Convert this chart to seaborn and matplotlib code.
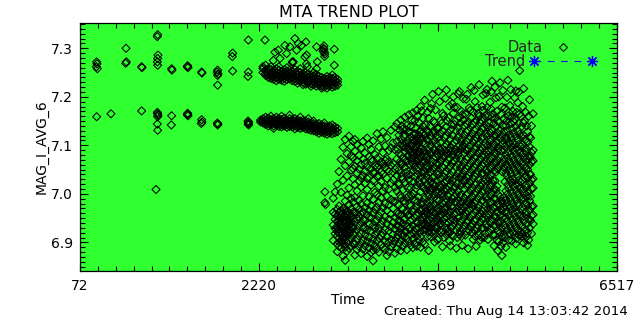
import matplotlib
matplotlib.use("Agg")
import matplotlib.pyplot as plt
import seaborn as sns
import pandas as pd
from matplotlib.lines import Line2D
from matplotlib.legend_handler import HandlerLine2D
from matplotlib.ticker import AutoMinorLocator

# ---------------- data ----------------
title = "MTA TREND PLOT"
x_label = "Time"
y_label = "MAG_I_AVG_6"
created = "Created: Thu Aug 14 13:03:42 2014"
x_ticks = [72, 2220, 4369, 6517]
y_ticks = [6.9, 7.0, 7.1, 7.2, 7.3]
x_range = [72, 6517]
y_range = [6.841, 7.352]

# sparse early points (time, value)
early_t = [272, 276, 280, 268, 272, 444, 624, 628, 620, 812, 816, 812, 984,
           1004, 1000, 1008, 1004, 1000, 1004, 1000, 1004, 1008, 1004, 1000, 1004,
           1172, 1176, 1172, 1168, 1364, 1360, 1368, 1364, 1360, 1368, 1364,
           1532, 1536, 1532, 1528, 1536, 1724, 1720, 1728, 1724, 1724, 1720, 1728, 1724,
           1904, 1900, 1904, 2092, 2092, 2088, 2092, 2096, 2088, 2092, 2096, 2292,
           2412, 2472, 2532, 2592, 2652, 2692, 2732, 2784, 2792, 2632, 2392, 2452,
           2912, 3124, 3124, 2912, 2552, 2772, 2672, 3000, 3000, 3005, 3010, 2995,
           3008, 2990, 2620, 2624, 2790, 2800, 2920, 3012, 3012, 3020]
early_v = [7.272, 7.268, 7.258, 7.262, 7.159, 7.165, 7.300, 7.272, 7.269, 7.262, 7.260, 7.171, 7.009,
           7.328, 7.324, 7.286, 7.279, 7.272, 7.265, 7.168, 7.165, 7.162, 7.159, 7.144, 7.131,
           7.258, 7.255, 7.161, 7.142, 7.264, 7.262, 7.260, 7.165, 7.163, 7.161, 7.166,
           7.251, 7.249, 7.153, 7.145, 7.148, 7.255, 7.251, 7.247, 7.244, 7.224, 7.146, 7.144, 7.142,
           7.290, 7.283, 7.253, 7.317, 7.251, 7.242, 7.146, 7.148, 7.150, 7.144, 7.142, 7.317,
           7.292, 7.279, 7.306, 7.303, 7.320, 7.310, 7.306, 7.313, 7.286, 7.272, 7.275, 7.296,
           7.303, 7.298, 7.265, 7.258, 7.289, 7.282, 7.296, 7.305, 7.298, 7.292, 7.288, 7.300,
           7.283, 7.294, 7.272, 7.270, 7.268, 7.262, 7.272, 7.004, 6.982, 6.978]

# upper band 2270-3170
upper_t = [2268, 2300, 2332, 2364, 2396, 2428, 2460, 2492, 2524, 2556, 2588, 2620, 2652,
           2684, 2716, 2748, 2780, 2812, 2844, 2876, 2908, 2940, 2972, 3004, 3036, 3068,
           3100, 3132, 3164]
upper_v = [[7.258, 7.250, 7.262], [7.255, 7.248, 7.244, 7.265], [7.252, 7.246, 7.240, 7.258],
           [7.256, 7.249, 7.243, 7.238, 7.262], [7.254, 7.247, 7.241, 7.236],
           [7.258, 7.251, 7.245, 7.239, 7.233], [7.255, 7.248, 7.242, 7.236, 7.262],
           [7.252, 7.246, 7.240, 7.234], [7.256, 7.250, 7.244, 7.238, 7.232],
           [7.253, 7.247, 7.241, 7.235, 7.260], [7.255, 7.249, 7.243, 7.237],
           [7.252, 7.245, 7.239, 7.233], [7.256, 7.250, 7.244, 7.238, 7.232],
           [7.253, 7.246, 7.240, 7.234, 7.228], [7.250, 7.244, 7.238, 7.232, 7.258],
           [7.248, 7.242, 7.236, 7.230, 7.225], [7.250, 7.244, 7.238, 7.232, 7.226],
           [7.247, 7.240, 7.234, 7.228], [7.245, 7.239, 7.233, 7.227, 7.222],
           [7.243, 7.237, 7.231, 7.225, 7.250], [7.246, 7.240, 7.234, 7.228, 7.222],
           [7.242, 7.236, 7.230, 7.224], [7.240, 7.234, 7.228, 7.222, 7.218],
           [7.238, 7.232, 7.226, 7.220], [7.242, 7.236, 7.230, 7.224, 7.218],
           [7.240, 7.234, 7.228, 7.222], [7.245, 7.238, 7.232, 7.226, 7.220],
           [7.240, 7.234, 7.228, 7.222], [7.236, 7.230, 7.224]]

# lower band 2240-3170
lower_t = [2240, 2270, 2300, 2332, 2364, 2396, 2428, 2460, 2492, 2524, 2556, 2588, 2620,
           2652, 2684, 2716, 2748, 2780, 2812, 2844, 2876, 2908, 2940, 2972, 3004, 3036,
           3068, 3100, 3132, 3164]
lower_v = [[7.152, 7.148], [7.155, 7.150, 7.146], [7.152, 7.147, 7.143, 7.158],
           [7.156, 7.150, 7.145, 7.140], [7.153, 7.148, 7.143, 7.160],
           [7.155, 7.150, 7.145, 7.140, 7.135], [7.152, 7.147, 7.142, 7.158],
           [7.155, 7.150, 7.144, 7.139], [7.153, 7.148, 7.143, 7.138, 7.160],
           [7.156, 7.150, 7.145, 7.140], [7.152, 7.147, 7.142, 7.137],
           [7.155, 7.149, 7.144, 7.139, 7.162], [7.153, 7.148, 7.143, 7.138],
           [7.155, 7.150, 7.145, 7.140, 7.134], [7.152, 7.147, 7.142, 7.137],
           [7.150, 7.145, 7.140, 7.135, 7.158], [7.152, 7.147, 7.142, 7.137],
           [7.150, 7.144, 7.139, 7.134], [7.148, 7.143, 7.138, 7.133, 7.155],
           [7.146, 7.141, 7.136, 7.131], [7.145, 7.140, 7.135, 7.130, 7.150],
           [7.143, 7.138, 7.133, 7.128], [7.145, 7.140, 7.135, 7.130, 7.125],
           [7.142, 7.137, 7.132, 7.127], [7.140, 7.135, 7.130, 7.125, 7.146],
           [7.138, 7.133, 7.128, 7.123], [7.140, 7.135, 7.130, 7.125],
           [7.142, 7.136, 7.130, 7.124], [7.138, 7.132, 7.126], [7.135, 7.128]]

# broad scatter 3110-5510
late_t = [3112, 3134, 3160, 3181, 3206, 3229, 3255, 3278, 3301, 3327, 3350,
          3372, 3398, 3421, 3447, 3470, 3493, 3518, 3541, 3566, 3590, 3612, 3637, 3660,
          3686, 3708, 3733, 3757, 3780, 3805, 3829, 3852,
          3876, 3900, 3923, 3948, 3971, 3995, 4019, 4042, 4067, 4090, 4114, 4138, 4161, 4186,
          4209, 4233, 4257, 4280, 4304, 4328, 4351, 4376, 4399, 4423, 4447, 4470, 4494,
          4518, 4541, 4566, 4589, 4613, 4637, 4660, 4685, 4708, 4732, 4756, 4779, 4803,
          4827, 4850, 4875, 4898, 4922, 4946, 4969, 4994, 5017, 5041, 5065, 5088, 5113,
          5136, 5160, 5184, 5207, 5231, 5255, 5278, 5302, 5326, 5349, 5374, 5397, 5421,
          5445, 5468, 5492, 5510]
late_v = [
    [6.962, 6.904, 6.991, 6.936],
    [6.958, 6.918, 6.947, 7.004, 6.929],
    [6.955, 6.943, 6.931, 6.913, 6.897, 6.968, 6.881, 7.020, 6.922],
    [6.951, 6.939, 6.921, 6.909, 6.962, 6.892, 6.946, 7.046, 6.975, 6.928, 6.901],
    [6.965, 6.948, 6.929, 6.915, 6.902, 6.938, 6.889, 7.071, 7.003, 6.956, 6.921],
    [6.959, 6.944, 6.925, 6.911, 6.897, 6.970, 6.933, 7.096, 7.028, 6.872, 6.951, 6.906],
    [6.966, 6.952, 6.939, 6.921, 6.905, 6.890, 6.946, 7.112, 7.058, 6.985, 6.863, 6.929, 6.913],
    [6.957, 6.943, 6.928, 6.913, 6.899, 6.965, 7.083, 7.037, 6.997, 6.882, 6.921, 6.950],
    [6.961, 6.935, 6.919, 6.903, 6.949, 7.119, 7.066, 7.012, 6.978, 6.888, 6.927, 6.942],
    [6.954, 6.940, 6.924, 6.908, 7.097, 7.049, 6.991, 6.969, 6.893, 7.079, 6.931],
    [6.947, 6.916, 6.899, 7.108, 7.074, 7.031, 6.983, 6.931, 7.052, 6.962],
    [7.088, 7.057, 7.019, 6.993, 6.962, 6.921, 6.897, 6.874, 7.112, 6.942],
    [7.101, 7.043, 7.006, 6.974, 6.948, 6.927, 6.906, 6.885, 7.068, 6.959],
    [7.079, 7.026, 6.987, 6.952, 6.934, 6.913, 6.892, 7.051, 6.968],
    [7.095, 7.061, 7.014, 6.979, 6.941, 6.918, 6.899, 6.877, 7.033, 6.958],
    [7.108, 7.072, 7.038, 6.996, 6.963, 6.929, 6.905, 6.886, 6.947],
    [7.084, 7.047, 7.021, 6.972, 6.945, 6.915, 6.893, 7.063, 6.931],
    [7.115, 7.056, 7.009, 6.981, 6.957, 6.926, 6.902, 6.871, 7.032],
    [7.077, 7.034, 6.994, 6.966, 6.938, 6.911, 6.889, 7.102, 6.952],
    [7.092, 7.052, 7.018, 6.976, 6.951, 6.923, 6.898, 6.879, 7.071],
    [7.109, 7.069, 7.027, 6.989, 6.961, 6.935, 6.907, 6.884, 6.862, 7.044],
    [7.081, 7.044, 7.003, 6.968, 6.943, 6.916, 6.894, 7.058, 6.929],
    [7.124, 7.073, 7.036, 6.998, 6.973, 6.947, 6.921, 6.903, 6.887, 7.055],
    [7.097, 7.059, 7.016, 6.982, 6.955, 6.929, 6.909, 6.880, 7.037],
    [7.113, 7.066, 7.025, 6.992, 6.962, 6.937, 6.914, 6.896, 7.045],
    [7.128, 7.085, 7.041, 7.006, 6.971, 6.944, 6.919, 6.890, 7.062],
    [7.099, 7.054, 7.013, 6.980, 6.953, 6.926, 6.902, 6.885, 7.069],
    [7.116, 7.072, 7.032, 6.995, 6.966, 6.939, 6.911, 6.873, 7.050],
    [7.089, 7.047, 7.010, 6.977, 6.948, 6.924, 6.900, 6.881, 7.066],
    [7.131, 7.095, 7.058, 7.022, 6.988, 6.958, 6.932, 6.906, 6.891],
    [7.105, 7.063, 7.029, 6.970, 6.941, 6.916, 6.897, 7.045, 6.985],
    [7.138, 7.091, 7.051, 7.014, 6.984, 6.952, 6.927, 6.903, 6.878],
    [7.145, 7.108, 7.072, 7.038, 6.962, 6.935, 6.910, 6.887, 7.006],
    [7.121, 7.084, 7.049, 7.019, 6.977, 6.946, 6.921, 6.898, 6.934],
    [7.152, 7.113, 7.079, 7.043, 6.992, 6.957, 6.929, 6.904, 6.883, 7.061],
    [7.134, 7.097, 7.062, 7.031, 6.969, 6.939, 6.913, 6.892, 7.008],
    [7.158, 7.122, 7.088, 7.055, 7.024, 6.981, 6.950, 6.924, 6.899, 7.104],
    [7.141, 7.104, 7.068, 7.037, 6.964, 6.933, 6.908, 6.885, 6.991],
    [7.163, 7.127, 7.093, 7.061, 7.029, 6.996, 6.957, 6.928, 6.902, 7.078],
    [7.118, 7.101, 7.085, 7.072, 7.058, 7.012, 6.975, 6.944, 6.916, 6.894, 7.139],
    [7.167, 7.112, 7.096, 7.079, 7.063, 7.047, 7.001, 6.963, 6.935, 6.907, 6.889],
    [7.124, 7.107, 7.091, 7.074, 7.056, 7.036, 6.987, 6.951, 6.922, 6.898, 7.151],
    [7.172, 7.116, 7.099, 7.082, 7.066, 7.049, 7.018, 6.974, 6.942, 6.913, 6.892],
    [7.148, 7.121, 7.104, 7.088, 7.071, 7.053, 7.026, 6.993, 6.959, 6.930, 6.905],
    [7.180, 7.131, 7.111, 7.093, 7.077, 7.060, 7.034, 7.004, 6.968, 6.938, 6.911, 6.890],
    [7.156, 7.126, 7.106, 7.085, 7.063, 7.041, 7.015, 6.983, 6.952, 6.925, 6.901, 6.968],
    [7.193, 7.121, 7.104, 7.066, 7.047, 7.029, 6.991, 6.972, 6.953, 6.936, 6.896],
    [7.132, 7.113, 7.074, 7.058, 7.037, 7.020, 6.983, 6.964, 6.945, 6.927],
    [7.156, 7.127, 7.108, 7.090, 7.052, 7.031, 7.013, 6.995, 6.958, 6.939, 6.921, 6.883],
    [7.176, 7.118, 7.099, 7.081, 7.060, 7.024, 7.005, 6.986, 6.967, 6.930, 6.912],
    [7.205, 7.125, 7.106, 7.066, 7.049, 7.033, 7.011, 6.974, 6.955, 6.937],
    [7.147, 7.129, 7.110, 7.092, 7.055, 7.036, 7.016, 6.999, 6.979, 6.943, 6.924, 6.901],
    [7.120, 7.102, 7.084, 7.063, 7.027, 7.007, 6.989, 6.950, 6.932],
    [7.211, 7.135, 7.116, 7.078, 7.060, 7.040, 7.003, 6.985, 6.965, 6.947, 6.908],
    [7.151, 7.124, 7.105, 7.068, 7.050, 7.031, 7.012, 6.975, 6.957, 6.938],
    [7.166, 7.131, 7.093, 7.074, 7.056, 7.019, 7.000, 6.981, 6.944, 6.925, 6.891],
    [7.117, 7.098, 7.080, 7.043, 7.024, 7.006, 6.968, 6.949, 6.931],
    [7.214, 7.138, 7.119, 7.101, 7.063, 7.045, 7.026, 6.989, 6.970, 6.952, 6.916],
    [7.157, 7.126, 7.089, 7.070, 7.052, 7.015, 6.996, 6.978, 6.940, 6.922],
    [7.132, 7.113, 7.095, 7.057, 7.039, 7.020, 6.983, 6.964, 6.946, 6.893],
    [7.186, 7.121, 7.102, 7.065, 7.046, 7.028, 6.991, 6.972, 6.935, 6.916],
    [7.178, 7.143, 7.106, 7.087, 7.068, 7.031, 7.013, 6.994, 6.957, 6.938],
    [7.129, 7.110, 7.073, 7.055, 7.036, 6.999, 6.980, 6.962, 6.925, 6.888],
    [7.206, 7.137, 7.118, 7.081, 7.062, 7.044, 7.006, 6.988, 6.951, 6.932],
    [7.146, 7.127, 7.090, 7.071, 7.053, 7.016, 6.997, 6.978, 6.941, 6.923],
    [7.163, 7.114, 7.096, 7.058, 7.040, 7.021, 6.984, 6.965, 6.947, 6.894],
    [7.141, 7.122, 7.085, 7.066, 7.048, 7.011, 6.992, 6.955, 6.936],
    [7.195, 7.128, 7.109, 7.072, 7.053, 7.035, 6.998, 6.979, 6.960, 6.923],
    [7.149, 7.130, 7.093, 7.074, 7.056, 7.019, 7.000, 6.963, 6.944, 6.887],
    [7.172, 7.117, 7.099, 7.061, 7.043, 7.024, 6.987, 6.968, 6.950],
    [7.144, 7.125, 7.088, 7.069, 7.051, 7.014, 6.995, 6.958, 6.939, 6.920],
    [7.213, 7.131, 7.112, 7.075, 7.056, 7.038, 7.001, 6.982, 6.945, 6.926],
    [7.152, 7.133, 7.096, 7.077, 7.059, 7.022, 7.003, 6.984, 6.947, 6.892],
    [7.166, 7.120, 7.102, 7.064, 7.046, 7.009, 6.990, 6.971, 6.934],
    [7.147, 7.128, 7.091, 7.072, 7.054, 7.017, 6.998, 6.961, 6.942, 6.905],
    [7.180, 7.135, 7.116, 7.079, 7.060, 7.042, 7.005, 6.986, 6.949, 6.930],
    [7.155, 7.136, 7.099, 7.080, 7.062, 7.025, 7.006, 6.969, 6.950, 6.910],
    [7.207, 7.142, 7.123, 7.086, 7.067, 7.049, 7.012, 6.993, 6.956, 6.937],
    [7.160, 7.137, 7.100, 7.081, 7.063, 7.026, 7.007, 6.970, 6.951, 6.906],
    [7.189, 7.126, 7.108, 7.070, 7.052, 7.015, 6.996, 6.977, 6.940],
    [7.232, 7.158, 7.133, 7.096, 7.077, 7.059, 7.022, 7.003, 6.966, 6.947],
    [7.145, 7.121, 7.084, 7.065, 7.047, 7.010, 6.991, 6.954, 6.935, 6.893],
    [7.198, 7.138, 7.119, 7.082, 7.064, 7.045, 7.008, 6.989, 6.952, 6.934],
    [7.150, 7.125, 7.088, 7.069, 7.051, 6.999, 6.980, 6.943, 6.925, 6.883],
    [7.229, 7.132, 7.114, 7.076, 7.058, 6.994, 6.975, 6.957, 6.920],
    [7.179, 7.120, 7.102, 7.064, 7.046, 6.985, 6.966, 6.929, 6.911, 6.873],
    [7.155, 7.128, 7.091, 7.072, 7.054, 6.992, 6.972, 6.935, 6.917],
    [7.141, 7.117, 7.080, 7.061, 7.043, 7.006, 6.987, 6.950, 6.931, 6.890],
    [7.234, 7.160, 7.130, 7.093, 7.074, 7.056, 7.019, 7.000, 6.963, 6.944],
    [7.182, 7.122, 7.104, 7.066, 7.048, 7.029, 6.992, 6.973, 6.936, 6.918],
    [7.158, 7.134, 7.097, 7.078, 7.060, 7.023, 7.004, 6.967, 6.948, 6.903],
    [7.149, 7.126, 7.089, 7.070, 7.052, 7.015, 6.996, 6.959, 6.940],
    [7.212, 7.139, 7.119, 7.082, 7.063, 7.045, 7.008, 6.989, 6.952, 6.933, 6.897],
    [7.188, 7.130, 7.112, 7.074, 7.056, 7.037, 7.000, 6.981, 6.944, 6.926],
    [7.254, 7.165, 7.123, 7.086, 7.067, 7.049, 7.012, 6.993, 6.956, 6.937],
    [7.139, 7.117, 7.080, 7.061, 7.043, 7.006, 6.987, 6.950, 6.931, 6.912],
    [7.217, 7.146, 7.121, 7.084, 7.065, 7.047, 7.010, 6.991, 6.954, 6.899],
    [7.168, 7.112, 7.094, 7.056, 7.038, 7.019, 6.982, 6.963, 6.926],
    [7.128, 7.106, 7.069, 7.050, 7.032, 6.995, 6.976, 6.939, 6.920, 6.894],
    [7.194, 7.118, 7.097, 7.060, 7.041, 7.023, 6.986, 6.967, 6.930],
    [7.140, 7.085, 7.066, 7.029, 7.011, 6.974, 6.955, 6.918],
    [7.165, 7.090, 7.068, 7.031, 7.012, 6.975, 6.957, 6.938],
]

# extra points between the columns 3880-5480
fill_t = [3888, 3912, 3935, 3959, 3983, 4007, 4030, 4054, 4078, 4102, 4126, 4150, 4174, 4197,
          4221, 4245, 4269, 4292, 4316, 4340, 4364, 4388, 4411, 4435, 4459, 4482, 4506,
          4530, 4554, 4578, 4601, 4625, 4649, 4673, 4697, 4720, 4744, 4768, 4791, 4815,
          4839, 4863, 4887, 4910, 4934, 4958, 4982, 5006, 5029, 5053, 5077, 5101, 5125,
          5148, 5172, 5196, 5219, 5243, 5267, 5290, 5314, 5338, 5362, 5386, 5409, 5433,
          5457, 5480]
fill_v = [
    [7.092, 7.021, 6.958, 6.915], [7.131, 7.066, 6.998, 6.942],
    [7.104, 7.035, 6.971, 6.918, 7.140], [7.118, 7.074, 6.986, 6.947],
    [7.095, 7.044, 6.962, 6.921, 7.132], [7.110, 7.079, 7.012, 6.955],
    [7.128, 7.090, 7.040, 6.978, 6.931], [7.103, 7.066, 6.995, 6.948, 7.152],
    [7.121, 7.084, 7.025, 6.969, 6.918], [7.135, 7.097, 7.011, 6.957, 6.928],
    [7.110, 7.072, 7.040, 6.984, 6.940, 7.160], [7.128, 7.085, 7.020, 6.966, 6.921],
    [7.115, 7.068, 7.046, 6.979, 6.945, 7.171], [7.138, 7.090, 7.012, 6.960, 6.927],
    [7.083, 7.009, 6.962, 6.928, 7.142], [7.079, 7.002, 6.968, 6.934, 7.168, 6.912],
    [7.071, 7.044, 6.975, 6.947, 7.139], [7.087, 7.012, 6.952, 6.921, 7.186],
    [7.091, 7.021, 6.991, 6.963, 6.918, 7.150], [7.076, 7.004, 6.958, 6.930, 7.173],
    [7.081, 7.046, 6.971, 6.941, 7.135, 6.905], [7.093, 7.018, 6.955, 6.925, 7.190],
    [7.085, 7.001, 6.968, 6.920, 7.145], [7.077, 7.036, 6.994, 6.960, 7.161, 6.910],
    [7.089, 7.012, 6.983, 6.940, 7.197], [7.082, 7.008, 6.961, 6.928, 7.150],
    [7.074, 7.029, 6.955, 6.919, 7.181, 6.903], [7.088, 7.005, 6.975, 6.930, 7.143],
    [7.080, 7.010, 6.947, 6.913, 7.166, 7.200], [7.092, 7.015, 6.985, 6.945, 7.150],
    [7.086, 7.021, 6.970, 6.910, 7.178], [7.099, 7.033, 6.964, 6.917, 7.157, 7.211],
    [7.107, 7.035, 6.969, 6.912, 7.170], [7.100, 7.028, 6.974, 6.928, 7.152, 7.196],
    [7.091, 7.027, 6.962, 6.915, 7.165], [7.090, 7.016, 6.985, 6.942, 7.143, 7.205],
    [7.112, 7.037, 6.980, 6.925, 7.177], [7.080, 7.006, 6.979, 6.932, 7.156, 7.219],
    [7.106, 7.032, 6.976, 6.906, 7.169], [7.093, 7.019, 6.964, 6.913, 7.147, 7.190],
    [7.114, 7.040, 6.965, 6.929, 7.178], [7.083, 7.028, 6.953, 6.915, 7.160, 7.225],
    [7.097, 7.023, 6.967, 6.911, 7.152], [7.118, 7.043, 6.987, 6.930, 7.172, 7.204],
    [7.104, 7.030, 6.975, 6.918, 7.161], [7.118, 7.044, 6.988, 6.932, 7.178, 7.215],
    [7.089, 7.033, 6.958, 6.921, 7.146], [7.115, 7.040, 6.984, 6.928, 7.175, 7.210],
    [7.102, 7.028, 6.972, 6.916, 7.165], [7.101, 7.027, 6.971, 6.915, 7.155, 7.220],
    [7.107, 7.016, 6.962, 6.905, 7.170], [7.095, 6.978, 6.938, 6.902, 7.148, 7.200],
    [7.089, 6.968, 6.944, 6.892, 7.164], [7.110, 6.980, 6.953, 6.899, 7.140, 7.213],
    [7.098, 7.025, 6.962, 6.910, 7.177], [7.112, 7.037, 6.981, 6.925, 7.150, 7.199],
    [7.085, 7.011, 6.955, 6.905, 7.168], [7.115, 7.041, 6.985, 6.929, 7.145, 7.215],
    [7.105, 7.031, 6.978, 6.921, 7.170], [7.101, 7.027, 6.971, 6.915, 7.154, 7.198],
    [7.093, 7.019, 6.963, 6.908, 7.168], [7.102, 7.028, 6.975, 6.915, 7.145, 7.210],
    [7.098, 7.024, 6.968, 6.922, 7.160], [7.101, 7.028, 6.973, 6.918, 7.180],
    [7.075, 7.001, 6.945, 6.908, 7.150], [7.087, 7.013, 6.957, 6.912, 7.140],
    [7.078, 7.004, 6.948, 6.905, 7.160], [7.075, 7.040, 6.995, 6.945, 7.115],
]

# ---------------- assemble ----------------
def flatten(ts, vs):
    tt, vv = [], []
    for t, col in zip(ts, vs):
        for v in col:
            tt.append(t)
            vv.append(v)
    return tt, vv

t_all, v_all = list(early_t), list(early_v)
for ts, vs in [(upper_t, upper_v), (lower_t, lower_v), (late_t, late_v), (fill_t, fill_v)]:
    a, b = flatten(ts, vs)
    t_all += a
    v_all += b
df = pd.DataFrame({"time": t_all, "value": v_all})

# ---------------- style ----------------
green = "#30ff30"
sns.set_theme(style="ticks")
plt.rcParams["font.family"] = ["DejaVu Sans"]

fig = plt.figure(figsize=(6.4, 3.2), dpi=100)
ax = fig.add_axes([0.125, 0.153, 0.839, 0.775])
ax.set_facecolor(green)

sns.scatterplot(data=df, x="time", y="value", ax=ax, marker="D", s=17,
                color="black", facecolor="none", edgecolor="black",
                linewidth=0.75, legend=False)

ax.set_xlim(*x_range)
ax.set_ylim(*y_range)
ax.set_xticks(x_ticks)
ax.set_xticklabels([str(v) for v in x_ticks])
ax.set_yticks(y_ticks)
ax.set_yticklabels([f"{v:.1f}" for v in y_ticks])
ax.xaxis.set_minor_locator(AutoMinorLocator(10))
ax.yaxis.set_minor_locator(AutoMinorLocator(10))
ax.tick_params(which="both", direction="in", top=True, right=True,
               color="black", width=0.8, labelsize=10, labelcolor="black")
ax.tick_params(which="major", length=6)
ax.tick_params(which="minor", length=3.5)
ax.tick_params(axis="x", which="major", pad=5.5)
ax.tick_params(axis="y", which="major", pad=5)
for s in ax.spines.values():
    s.set_color("black")
    s.set_linewidth(0.9)

ax.set_xlabel(x_label, fontsize=10, color="black", labelpad=0)
ax.set_ylabel(y_label, fontsize=10, color="black", labelpad=2)
ax.set_title(title, fontsize=11.5, color="black", pad=4.5)
fig.text(0.981, 0.028, created, ha="right", va="center", fontsize=9.7, color="black")

# legend (two single-entry legends, IDL style: text then symbol)
data_h = Line2D([], [], marker="D", ls="none", mfc="none", mec="black", ms=4.2, mew=0.75)
trend_h = Line2D([], [], color="blue", ls=(0, (6, 6)), lw=0.8, marker=(8, 2, 0), ms=8, mew=0.9)
leg1 = ax.legend([data_h], ["Data"], loc="upper right", bbox_to_anchor=(0.929, 0.93),
                 frameon=False, markerfirst=False, numpoints=1, handlelength=2.2,
                 handletextpad=0.3, borderpad=0, borderaxespad=0, fontsize=10.5)
ax.add_artist(leg1)
ax.legend([trend_h], ["Trend"], loc="upper right", bbox_to_anchor=(0.9534, 0.874),
          frameon=False, markerfirst=False, numpoints=2, handlelength=3.98,
          handletextpad=0.62, borderpad=0, borderaxespad=0, fontsize=10.5,
          handler_map={trend_h: HandlerLine2D(numpoints=2, marker_pad=0)})

fig.savefig("out.png", dpi=100, facecolor="white")
